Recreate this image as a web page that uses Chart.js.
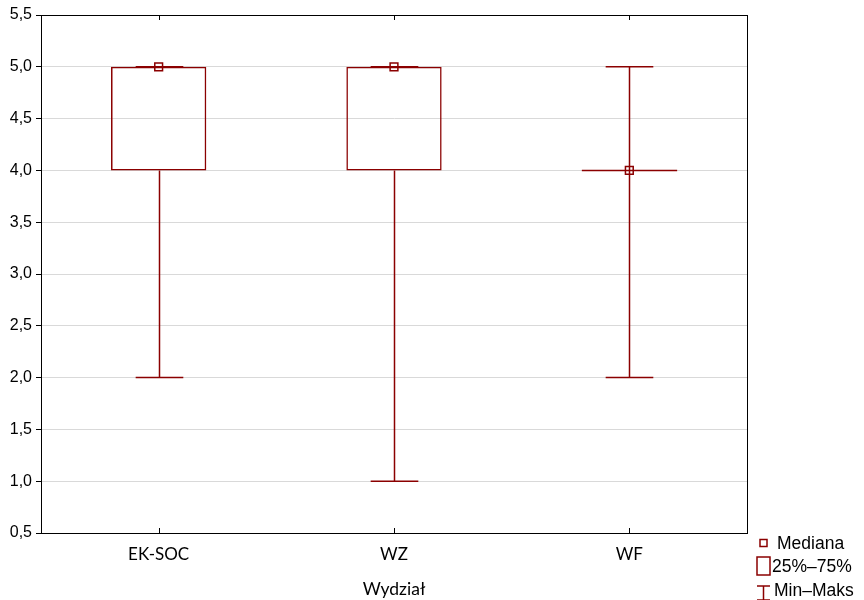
<!DOCTYPE html>
<html>
<head>
<meta charset="utf-8">
<script src="https://cdn.jsdelivr.net/npm/chart.js@4.4.0/dist/chart.umd.min.js"></script>
<style>
  html, body { margin: 0; padding: 0; background: #fff; }
  #wrap { width: 864px; height: 600px; }
</style>
</head>
<body>
<div id="wrap"><canvas id="boxChart"></canvas></div>
<script>
// box plot values per faculty
const categories = ['EK-SOC', 'WZ', 'WF'];
const mins = [2, 1, 2];
const q1s = [4, 4, 4];
const medians = [5, 5, 4];
const q3s = [5, 5, 4];
const maxs = [5, 5, 5];
const yTicks = [0.5, 1.0, 1.5, 2.0, 2.5, 3.0, 3.5, 4.0, 4.5, 5.0, 5.5];
const legendLabels = ['Mediana', '25%–75%', 'Min–Maks'];
const axisTitle = 'Wydział';

const RED = '#8b0000';

// whiskers, caps, frame, inner ticks and the legend
const boxExtras = {
    id: 'boxExtras',
    beforeDatasetsDraw(chart) {
        const ctx = chart.ctx;
        const xs = chart.scales.x, ys = chart.scales.y;
        const bars = chart.getDatasetMeta(0).data;
        ctx.save();
        ctx.strokeStyle = RED;
        ctx.lineWidth = 1.5;
        for (let i = 0; i < categories.length; i++) {
            const x = Math.round(xs.getPixelForValue(i)) + 0.5;
            const half = bars[i].width / 2;
            const cap = half / 2;
            const yMin = ys.getPixelForValue(mins[i]);
            const yMax = ys.getPixelForValue(maxs[i]);
            const yQ1 = ys.getPixelForValue(q1s[i]);
            const yQ3 = ys.getPixelForValue(q3s[i]);
            ctx.beginPath();
            ctx.moveTo(x, yMin); ctx.lineTo(x, yQ1);
            ctx.moveTo(x, yQ3); ctx.lineTo(x, yMax);
            ctx.moveTo(x - cap, yMin); ctx.lineTo(x + cap, yMin);
            ctx.moveTo(x - cap, yMax); ctx.lineTo(x + cap, yMax);
            if (q1s[i] === q3s[i]) {
                ctx.moveTo(x - half, yQ1); ctx.lineTo(x + half, yQ1);
            }
            ctx.stroke();
        }
        ctx.restore();
    },
    afterDraw(chart) {
        const ctx = chart.ctx;
        const a = chart.chartArea;
        const xs = chart.scales.x;
        ctx.save();
        ctx.strokeStyle = '#000';
        ctx.lineWidth = 1;
        ctx.strokeRect(a.left + 0.5, a.top + 0.5, a.right - a.left, a.bottom - a.top);
        ctx.beginPath();
        for (let i = 0; i < categories.length; i++) {
            const x = Math.round(xs.getPixelForValue(i)) + 0.5;
            ctx.moveTo(x, a.top); ctx.lineTo(x, a.top + 5);
            ctx.moveTo(x, a.bottom); ctx.lineTo(x, a.bottom - 5);
        }
        ctx.stroke();

        // legend
        const lx = a.right + 10, ly = a.bottom + 10;
        ctx.strokeStyle = RED;
        ctx.lineWidth = 1.5;
        ctx.strokeRect(lx + 3, ly - 3.5, 7, 7);
        ctx.strokeRect(lx, ly + 14, 13, 18);
        ctx.beginPath();
        ctx.moveTo(lx, ly + 43); ctx.lineTo(lx + 13, ly + 43);
        ctx.moveTo(lx + 6.5, ly + 43); ctx.lineTo(lx + 6.5, ly + 57);
        ctx.moveTo(lx, ly + 57); ctx.lineTo(lx + 13, ly + 57);
        ctx.stroke();
        ctx.fillStyle = '#000';
        ctx.font = '17.5px "Liberation Sans", Arial, sans-serif';
        ctx.textBaseline = 'middle';
        ctx.fillText(legendLabels[0], lx + 20, ly + 1);
        ctx.fillText(legendLabels[1], lx + 15, ly + 24);
        ctx.fillText(legendLabels[2], lx + 17, ly + 48);
        ctx.restore();
    }
};

new Chart(document.getElementById('boxChart'), {
    data: {
        labels: categories,
        datasets: [{
            type: 'bar',
            label: legendLabels[1],
            data: q1s.map((q, i) => [q, q3s[i]]),
            backgroundColor: 'rgba(255,255,255,0)',
            borderColor: RED,
            borderWidth: 1.5,
            borderSkipped: false,
            barPercentage: 1,
            categoryPercentage: 0.405,
            order: 1
        }, {
            type: 'line',
            label: legendLabels[0],
            data: medians,
            showLine: false,
            pointStyle: 'rect',
            pointRadius: 5.5,
            pointBorderWidth: 1.5,
            pointBorderColor: RED,
            pointBackgroundColor: 'rgba(255,255,255,0)',
            order: 0
        }]
    },
    options: {
        responsive: true,
        maintainAspectRatio: false,
        animation: false,
        layout: { padding: { top: 15, right: 117, left: 0, bottom: 0 } },
        plugins: { legend: { display: false }, tooltip: { enabled: false } },
        scales: {
            x: {
                offset: true,
                grid: { display: false },
                border: { display: false },
                ticks: {
                    padding: 3,
                    color: '#000',
                    font: { family: 'Lato', size: 17 }
                },
                title: {
                    display: true,
                    text: axisTitle,
                    color: '#000',
                    padding: { top: 10, bottom: 0 },
                    font: { family: 'Lato', size: 17.5 }
                },
                afterFit(scale) { scale.height = 67; }
            },
            y: {
                min: yTicks[0],
                max: yTicks[yTicks.length - 1],
                afterBuildTicks(scale) { scale.ticks = yTicks.map(v => ({ value: v })); },
                grid: { color: '#d9d9d9', tickColor: '#000', tickLength: 5 },
                border: { color: '#000' },
                ticks: {
                    padding: 4,
                    color: '#000',
                    font: { family: '"Liberation Sans"', size: 16 },
                    callback: v => v.toFixed(1).replace('.', ',')
                },
                afterFit(scale) { scale.width = 41; }
            }
        }
    },
    plugins: [boxExtras]
});
</script>
</body>
</html>
